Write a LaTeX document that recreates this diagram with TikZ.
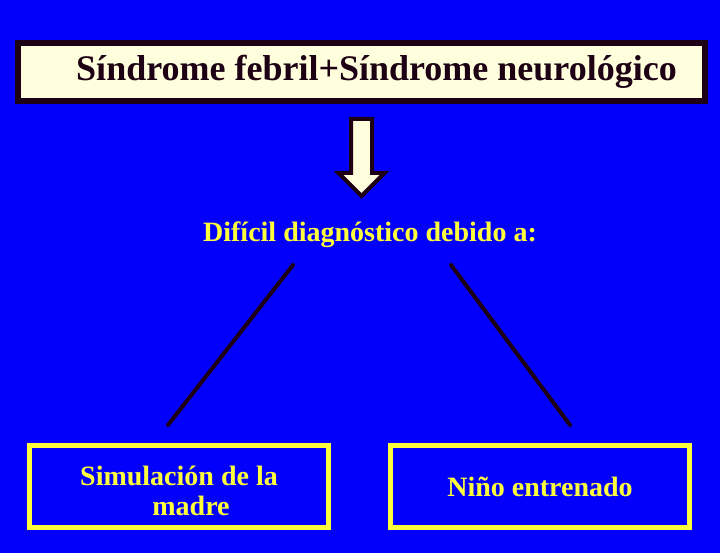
\documentclass[tikz,border=0pt]{standalone}
\usepackage{fontspec}
\setmainfont{Liberation Serif}
\usetikzlibrary{positioning}

\definecolor{bgblue}{RGB}{2,0,250}
\definecolor{cream}{RGB}{255,255,222}
\definecolor{darkline}{RGB}{30,0,20}
\definecolor{lightyel}{RGB}{255,255,60}

\begin{document}
\begin{tikzpicture}[x=1pt,y=-1pt,
    titlebox/.style={draw=darkline,line width=6pt,fill=cream,text=darkline,minimum width=687pt,minimum height=58pt,inner sep=0pt,font=\bfseries\fontsize{36}{40}\selectfont},
    answerbox/.style={draw=lightyel,line width=5pt,text=lightyel,minimum width=299pt,minimum height=82pt,inner sep=0pt,align=center,font=\bfseries\fontsize{28}{30}\selectfont},
    blockarrow/.style={draw=darkline,line width=4pt,fill=cream,line join=miter},
    branch/.style={darkline,line width=4pt,line cap=round}]
	  \fill[bgblue] (0,0) rectangle (720,553);

	  \node[titlebox]                        (title)  at (361.5,72)  {\hspace*{30pt}Síndrome febril+Síndrome neurológico};
	  \node[text=lightyel,font=\bfseries\fontsize{28}{31}\selectfont] (diag) at (370,235) {Difícil diagnóstico debido a:};
	  \node[answerbox]                       (simul)  at (179,486.5) {\raisebox{0pt}[\dimexpr\height+16pt][\depth]{\begin{tabular}{@{}c@{}}Simulación de la\\ \hspace*{24pt}madre\end{tabular}}};
	  \node[answerbox]                       (ninho)  at (540,486.5) {Niño entrenado};

	  % down arrow between title and text
	  \coordinate (arr) at (361.5,119);
	  \draw[blockarrow] (arr) ++(-10.5,0) -- ++(21,0) -- ++(0,54) -- ++(12.5,0) -- ++(-23,23) -- ++(-23,-23) -- ++(12.5,0) -- cycle;

	  \coordinate (ltop) at (293,265);
	  \coordinate (lbot) at (168,425);
	  \coordinate (rtop) at (451,265);
	  \coordinate (rbot) at (570,425);
	  \draw[branch] (ltop) -- (lbot);
	  \draw[branch] (rtop) -- (rbot);
\end{tikzpicture}
\end{document}
